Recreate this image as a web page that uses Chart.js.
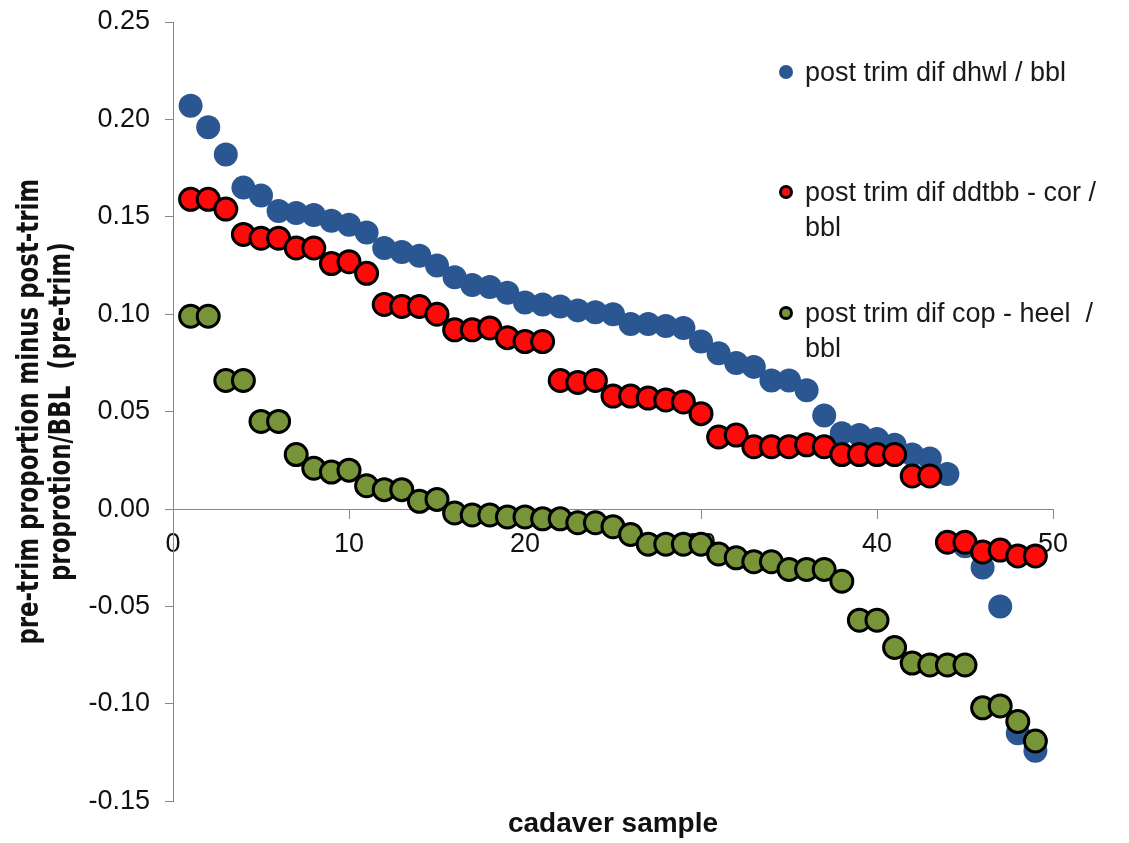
<!DOCTYPE html>
<html>
<head>
<meta charset="utf-8">
<title>Post-trim differences by cadaver sample</title>
<script src="https://cdn.jsdelivr.net/npm/chart.js@4.4.1/dist/chart.umd.min.js"></script>
<style>
  html, body { margin: 0; padding: 0; background: #ffffff; }
  #wrap { position: relative; width: 1129px; height: 843px; }
  #chart { position: absolute; left: 0; top: 0; }
  .legend-item { position: absolute; left: 805px; font-family: 'Liberation Sans', Arial, sans-serif;
    font-size: 27px; line-height: 35px; color: #1a1a1a; white-space: pre; }
  .legend-dot { position: absolute; border-radius: 50%; box-sizing: border-box; }
</style>
</head>
<body>
<div id="wrap">
  <canvas id="chart" width="1129" height="843"></canvas>
  <div id="legend"></div>
</div>
<script>
// cadaver sample numbers (x axis)
const samples = [1, 2, 3, 4, 5, 6, 7, 8, 9, 10, 11, 12, 13, 14, 15, 16, 17, 18, 19, 20,
  21, 22, 23, 24, 25, 26, 27, 28, 29, 30, 31, 32, 33, 34, 35, 36, 37, 38, 39, 40,
  41, 42, 43, 44, 45, 46, 47, 48, 49];

// post trim dif dhwl / bbl
const dhwl = [0.207, 0.196, 0.182, 0.165, 0.161, 0.153, 0.152, 0.151, 0.148, 0.146,
  0.142, 0.134, 0.132, 0.130, 0.125, 0.119, 0.115, 0.114, 0.111, 0.106,
  0.105, 0.104, 0.102, 0.101, 0.100, 0.095, 0.095, 0.094, 0.093, 0.086,
  0.080, 0.075, 0.073, 0.066, 0.066, 0.061, 0.048, 0.039, 0.038, 0.036,
  0.033, 0.028, 0.026, 0.018, -0.019, -0.030, -0.050, -0.115, -0.124];

// post trim dif ddtbb - cor / bbl
const ddtbbCor = [0.159, 0.159, 0.154, 0.141, 0.139, 0.139, 0.134, 0.134, 0.126, 0.127,
  0.121, 0.105, 0.104, 0.104, 0.100, 0.092, 0.092, 0.093, 0.088, 0.086,
  0.086, 0.066, 0.065, 0.066, 0.058, 0.058, 0.057, 0.056, 0.055, 0.049,
  0.037, 0.038, 0.032, 0.032, 0.032, 0.033, 0.032, 0.028, 0.028, 0.028,
  0.028, 0.017, 0.017, -0.017, -0.017, -0.022, -0.021, -0.024, -0.024];

// post trim dif cop - heel / bbl
const copHeel = [0.099, 0.099, 0.066, 0.066, 0.045, 0.045, 0.028, 0.021, 0.019, 0.020,
  0.012, 0.010, 0.010, 0.004, 0.005, -0.002, -0.003, -0.003, -0.004, -0.004,
  -0.005, -0.005, -0.007, -0.007, -0.009, -0.013, -0.018, -0.018, -0.018, -0.018,
  -0.023, -0.025, -0.027, -0.027, -0.031, -0.031, -0.031, -0.037, -0.057, -0.057,
  -0.071, -0.079, -0.080, -0.080, -0.080, -0.102, -0.101, -0.109, -0.119];

// series names (legend lines)
const seriesNames = [
  ['post trim dif dhwl / bbl'],
  ['post trim dif ddtbb - cor /', 'bbl'],
  ['post trim dif cop - heel  /', 'bbl']
];

const yTitle = ['pre-trim proportion minus post-trim', 'proprotion/BBL  (pre-trim)'];
const xTitle = 'cadaver sample';

const toPoints = vals => samples.map((s, i) => ({ x: s, y: vals[i] }));

const axisColor = '#888888';
const tickFont = { family: "'Liberation Sans', Arial, sans-serif", size: 27 };

// Two-line vertical axis title in a condensed bold face, centred on the plot height
const yTitlePlugin = {
  id: 'yTitle',
  afterDraw(chart, args, opts) {
    const { ctx, chartArea } = chart;
    const cy = (chartArea.top + chartArea.bottom) / 2;
    ctx.save();
    ctx.translate(0, cy);
    ctx.rotate(-Math.PI / 2);
    ctx.scale(opts.squeeze, 1);
    ctx.font = opts.font;
    ctx.fillStyle = opts.color;
    ctx.textAlign = 'center';
    ctx.textBaseline = 'middle';
    opts.text.forEach((line, i) => ctx.fillText(line, 0, opts.offsets[i]));
    ctx.restore();
  }
};

const chart = new Chart(document.getElementById('chart'), {
  type: 'scatter',
  data: {
    datasets: [
      { label: seriesNames[0].join(' '), data: toPoints(dhwl), order: 3,
        pointRadius: 12, pointBackgroundColor: '#2a5691', pointBorderWidth: 0,
        pointBorderColor: '#2a5691' },
      { label: seriesNames[1].join(' '), data: toPoints(ddtbbCor), order: 2,
        pointRadius: 11, pointBackgroundColor: '#ff0a0a', pointBorderWidth: 3,
        pointBorderColor: '#000000' },
      { label: seriesNames[2].join(' '), data: toPoints(copHeel), order: 1,
        pointRadius: 11, pointBackgroundColor: '#779438', pointBorderWidth: 3,
        pointBorderColor: '#000000' }
    ]
  },
  plugins: [yTitlePlugin],
  options: {
    responsive: false,
    animation: false,
    layout: { padding: { top: 22, right: 76, left: 0, bottom: 0 } },
    plugins: {
      legend: { display: false },
      tooltip: { enabled: false },
      title: {
        display: true, position: 'bottom', fullSize: false, text: xTitle,
        color: '#111111',
        font: { family: "'Liberation Sans', Arial, sans-serif", size: 28, weight: 'bold', lineHeight: 1.2 },
        padding: { top: 6, bottom: 2 }
      },
      yTitle: {
        text: yTitle,
        font: "bold 31px 'DejaVu Sans Condensed', 'Liberation Sans', sans-serif",
        color: '#111111',
        squeeze: 0.82,
        offsets: [30, 62]
      }
    },
    scales: {
      x: {
        type: 'linear',
        position: { y: 0 },
        min: 0, max: 50,
        ticks: { stepSize: 10, color: '#111111', font: tickFont, padding: 10, maxRotation: 0 },
        grid: { drawOnChartArea: false, drawTicks: true, tickLength: 9, color: axisColor },
        border: { color: axisColor, width: 1 }
      },
      y: {
        type: 'linear',
        position: 'left',
        min: -0.15, max: 0.25,
        afterFit: scale => {
          scale.width = 173;
          scale.paddingTop = 0;
          scale.paddingBottom = 0;
        },
        ticks: { stepSize: 0.05, color: '#111111', font: tickFont, padding: 15,
          callback: v => v.toFixed(2) },
        grid: { drawOnChartArea: false, drawTicks: true, tickLength: 8, color: axisColor },
        border: { color: axisColor, width: 1 },
        title: { display: false }
      }
    }
  }
});

// legend built from the dataset styles and names
const legendTops = [72, 192, 313];
const legend = document.getElementById('legend');
chart.data.datasets.forEach((ds, i) => {
  const cy = legendTops[i];
  const dot = document.createElement('div');
  dot.className = 'legend-dot';
  const size = 14;
  dot.style.width = size + 'px';
  dot.style.height = size + 'px';
  dot.style.left = (786 - size / 2) + 'px';
  dot.style.top = (cy - size / 2) + 'px';
  dot.style.background = ds.pointBackgroundColor;
  if (ds.pointBorderWidth > 0) dot.style.border = '3px solid ' + ds.pointBorderColor;
  legend.appendChild(dot);
  const txt = document.createElement('div');
  txt.className = 'legend-item';
  txt.style.top = (cy - 17.5) + 'px';
  txt.textContent = seriesNames[i].join('\n');
  legend.appendChild(txt);
});
</script>
</body>
</html>
